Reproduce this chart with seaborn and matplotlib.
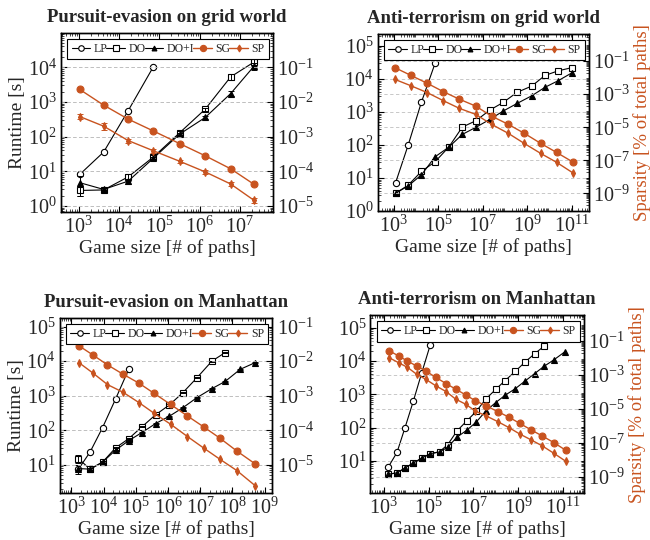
import numpy as np
import matplotlib
matplotlib.use("Agg")
import matplotlib.pyplot as plt
import seaborn as sns
from matplotlib.ticker import FixedLocator, LogLocator, LogFormatterSciNotation, NullFormatter
from matplotlib.lines import Line2D

sns.set_theme(style="ticks")
plt.rcParams["font.family"] = ["Liberation Serif", "DejaVu Serif"]
plt.rcParams["mathtext.fontset"] = "stix"

ORANGE = "#c8531f"

# ---- Pursuit-evasion on grid world ----
pe_grid_x = [1.07e3, 4.2e3, 1.7e4, 7.2e4, 3.2e5, 1.38e6, 5.9e6, 2.24e7]
pe_grid_lp = [8.1, 36, 560, 1.05e4]
pe_grid_do = [2.8, 2.9, 6.9, 26, 129, 620, 5.3e3, 1.42e4]
pe_grid_doi = [4.7, 3.0, 5.2, 24, 118, 357, 1.75e3, 1.08e4]
pe_grid_xs = [1.07e3, 4.2e3, 1.7e4, 7.2e4, 3.2e5, 1.38e6, 5.9e6, 2.24e7]
pe_grid_sg = [2.3e-2, 8.1e-3, 3.2e-3, 1.45e-3, 6.3e-4, 2.8e-4, 1.18e-4, 4.2e-5]
pe_grid_sp = [3.8e-3, 2.0e-3, 7.7e-4, 3.9e-4, 1.95e-4, 9.6e-5, 4.3e-5, 1.45e-5]
pe_grid_do_err = [0.9, 0.3, 1.5, 3, 15, 60, 900, 3000]
pe_grid_doi_err = [2.8, 0.3, 0.8, 2, 10, 40, 300, 2500]
pe_grid_sp_err = [6e-4, 4.5e-4, 1e-4, 5e-5, 2e-5, 1e-5, 5e-6, 2.5e-6]

# ---- Anti-terrorism on grid world ----
at_grid_x = [1.2e3, 4.4e3, 1.74e4, 7.1e4, 3.0e5, 1.2e6, 4.9e6, 2.1e7, 8.3e7,
             3.5e8, 1.6e9, 6.3e9, 2.5e10, 1.0e11]
at_grid_lp = [7.3, 100, 2.0e3, 2.95e4]
at_grid_do = [3.5, 6.1, 16, 31, 88, 350, 545, 1150, 1950, 3950, 6100, 1.28e4, 1.77e4, 2.2e4]
at_grid_doi = [3.5, 5.8, 12.5, 44, 87, 210, 345, 600, 1070, 1820, 3100, 5600, 8900, 1.52e4]
at_grid_xs = [1.1e3, 5.9e3, 3.2e4, 1.7e5, 8.7e5, 4.8e6, 2.5e7, 1.4e8, 7.4e8, 4.1e9, 2.1e10, 1.1e11]
at_grid_sg = [4.0e-2, 1.35e-2, 4.5e-3, 1.4e-3, 5.0e-4, 1.9e-4, 4.7e-5, 1.5e-5, 4.3e-6,
              1.05e-6, 3.0e-7, 8.1e-8]
at_grid_sp = [7.8e-3, 3.2e-3, 1.23e-3, 4.0e-4, 1.4e-4, 6.0e-5, 1.5e-5, 4.3e-6, 1.05e-6,
              2.6e-7, 7.6e-8, 1.8e-8]

# ---- Pursuit-evasion on Manhattan ----
pe_man_x = [1.66e3, 3.8e3, 9.3e3, 2.35e4, 6.0e4, 1.55e5, 4.1e5, 1.1e6, 2.9e6, 7.9e6,
            2.3e7, 6.0e7, 1.74e8, 5.0e8]
pe_man_lp = [7.5, 23.5, 120, 800, 5800]
pe_man_do = [15, 7.5, 12, 31, 57, 126, 280, 540, 1230, 3300, 1.0e4, 1.78e4]
pe_man_doi = [7.8, 7.5, 12, 26.5, 50, 86, 156, 255, 450, 880, 1600, 2600, 5800, 9000]
pe_man_xs = [1.7e3, 4.7e3, 1.32e4, 4.0e4, 1.26e5, 3.7e5, 1.2e6, 4.0e6, 1.32e7, 4.1e7,
             1.38e8, 5.2e8]
pe_man_sg = [2.8e-2, 1.5e-2, 7.8e-3, 4.2e-3, 2.3e-3, 1.17e-3, 5.6e-4, 2.6e-4, 1.23e-4,
             5.9e-5, 2.5e-5, 1.05e-5]
pe_man_sp = [9.1e-3, 4.5e-3, 2.1e-3, 1.26e-3, 6.3e-4, 3.1e-4, 1.5e-4, 6.6e-5, 3.0e-5,
             1.45e-5, 6.8e-6, 2.45e-6]
pe_man_do_err = [4, 0.5, 0.5, 1, 2, 5, 10, 20, 50, 150, 400, 600]
pe_man_doi_err = [2.2, 0.5, 0.5, 1, 2, 3, 5, 10, 20, 30, 60, 100, 200, 300]

# ---- Anti-terrorism on Manhattan ----
at_man_x = [1.6e3, 3.9e3, 8.9e3, 2.1e4, 5.0e4, 1.2e5, 3.1e5, 7.2e5, 1.86e6, 5.1e6,
            1.35e7, 3.5e7, 9.8e7, 2.6e8, 7.4e8, 2.0e9, 5.4e9, 1.4e10, 4.0e10, 1.17e11]
at_man_lp = [6.6, 18, 100, 630, 4500, 3.1e4]
at_man_do = [4.0, 4.4, 6.0, 8.7, 12, 16.5, 19, 31, 80, 160, 310, 710, 1400, 2600, 4900,
             9300, 1.66e4, 2.77e4]
at_man_doi = [4.0, 4.4, 6.2, 8.7, 12.3, 16.6, 18.6, 26, 52, 84, 148, 310, 565, 940, 1480,
              2500, 4200, 6900, 1.1e4, 1.87e4]
at_man_xs = [1.74e3, 4.7e3, 1.15e4, 2.9e4, 7.6e4, 2.1e5, 6.3e5, 1.6e6, 4.6e6, 1.23e7,
             3.8e7, 1.26e8, 3.9e8, 1.17e9, 3.9e9, 1.2e10, 3.9e10, 1.29e11]
at_man_sg = [2.7e-2, 1.3e-2, 6.6e-3, 3.4e-3, 1.7e-3, 7.2e-4, 3.0e-4, 1.48e-4, 6.6e-5,
             3.0e-5, 1.48e-5, 6.8e-6, 3.2e-6, 1.4e-6, 5.6e-7, 2.5e-7, 1.02e-7, 3.7e-8]
at_man_sp = [1.05e-2, 5.2e-3, 2.8e-3, 1.12e-3, 5.5e-4, 2.3e-4, 1.02e-4, 3.8e-5, 1.86e-5,
             7.4e-6, 3.8e-6, 1.74e-6, 7.8e-7, 3.3e-7, 1.45e-7, 6.5e-8, 2.4e-8, 8.3e-9]

styles = {
    "LP": dict(color="black", marker="o", mfc="white", mec="black", ms=4.5, lw=0.8),
    "DO": dict(color="black", marker="s", mfc="white", mec="black", ms=4.5, lw=0.8),
    "DO+I": dict(color="black", marker="^", mfc="black", mec="black", ms=4, lw=0.8),
    "SG": dict(color=ORANGE, marker="o", mfc=ORANGE, mec=ORANGE, ms=5, lw=1.0),
    "SP": dict(color=ORANGE, marker="d", mfc=ORANGE, mec=ORANGE, ms=4, lw=1.0),
}


def series(ax, x, y, name, err=None):
    st = styles[name]
    sns.lineplot(x=x[:len(y)], y=y, ax=ax, color=st["color"], marker=st["marker"],
                 markersize=st["ms"], markerfacecolor=st["mfc"], markeredgecolor=st["mec"],
                 markeredgewidth=0.8, linewidth=st["lw"], estimator=None, sort=False,
                 legend=False, zorder=3)
    if err is not None:
        ax.errorbar(x[:len(y)], y, yerr=err, fmt="none", ecolor=st["color"],
                    elinewidth=0.7, capsize=2, capthick=0.7, zorder=3)


def decades(lo, hi, step=1):
    return [10.0 ** k for k in range(lo, hi + 1, step)]


def panel(rect, title, xb, lp, do, doi, xo, sg, sp, xlim, ylim, rlim,
          xt, yt, rt, left_label, right_label, errs=None):
    errs = errs or {}
    ax = fig.add_axes(rect)
    ax.set_xscale("log")
    ax.set_yscale("log")
    ax2 = ax.twinx()
    ax2.set_yscale("log")

    series(ax, xb, lp, "LP", errs.get("LP"))
    series(ax, xb, do, "DO", errs.get("DO"))
    series(ax, xb, doi, "DO+I", errs.get("DO+I"))
    series(ax2, xo, sg, "SG", errs.get("SG"))
    series(ax2, xo, sp, "SP", errs.get("SP"))

    ax.set_xlim(*xlim)
    ax.set_ylim(*ylim)
    ax2.set_ylim(*rlim)

    fmt = LogFormatterSciNotation()
    ax.xaxis.set_major_locator(FixedLocator(xt))
    ax.xaxis.set_major_formatter(fmt)
    ax.xaxis.set_minor_locator(LogLocator(base=10, subs=np.arange(2, 10), numticks=100))
    ax.xaxis.set_minor_formatter(NullFormatter())
    ax.yaxis.set_major_locator(FixedLocator(yt))
    ax.yaxis.set_major_formatter(fmt)
    ax.yaxis.set_minor_locator(LogLocator(base=10, subs=np.arange(2, 10), numticks=100))
    ax.yaxis.set_minor_formatter(NullFormatter())
    ax2.yaxis.set_major_locator(FixedLocator(rt))
    ax2.yaxis.set_major_formatter(LogFormatterSciNotation())
    ax2.yaxis.set_minor_locator(LogLocator(base=10, subs=np.arange(2, 10), numticks=100))
    ax2.yaxis.set_minor_formatter(NullFormatter())

    ax.tick_params(which="both", direction="in", top=True, right=False, labelsize=14.5,
                   color="black")
    ax.tick_params(which="major", length=4, width=0.8, pad=3)
    ax.tick_params(which="minor", length=2, width=0.5)
    ax2.tick_params(which="both", direction="in", right=True, labelsize=14.5, color="black")
    ax2.tick_params(which="major", length=4, width=0.8, pad=3)
    ax2.tick_params(which="minor", length=2, width=0.5)

    ax.grid(axis="y", which="major", ls=(0, (4, 3)), color="0.75", lw=0.6)
    ax2.grid(axis="y", which="major", ls=(0, (4, 3)), color="0.75", lw=0.6)
    ax.set_axisbelow(True)
    for a in (ax, ax2):
        for s in a.spines.values():
            s.set_color("black")
            s.set_linewidth(1.0)

    ax.set_title(title, fontsize=13.5, fontweight="bold", pad=8)
    ax.set_xlabel("Game size [# of paths]", fontsize=14, labelpad=1)
    if left_label:
        ax.set_ylabel("Runtime [s]", fontsize=14, labelpad=1)
    if right_label:
        ax2.set_ylabel("Sparsity [% of total paths]", fontsize=13.5, color=ORANGE,
                       labelpad=2)

    handles = []
    for name in ["LP", "DO", "DO+I", "SG", "SP"]:
        st = styles[name]
        handles.append(Line2D([], [], color=st["color"], marker=st["marker"],
                              markersize=st["ms"] - 0.5, markerfacecolor=st["mfc"],
                              markeredgecolor=st["mec"], markeredgewidth=0.8,
                              linewidth=st["lw"], label=name))
    leg = ax2.legend(handles=handles, loc="upper left", ncol=5, mode="expand",
                     bbox_to_anchor=(0.03, 0.855, 0.95, 0.11), fontsize=8.5,
                     frameon=True, fancybox=False, edgecolor="black", framealpha=1,
                     handlelength=1.6, handletextpad=0.3, columnspacing=0.4,
                     borderpad=0.35, borderaxespad=0.0)
    leg.get_frame().set_linewidth(0.8)
    return ax, ax2


fig = plt.figure(figsize=(6.5, 5.4), dpi=100)

panel([0.094, 0.607, 0.326, 0.332], "Pursuit-evasion on grid world",
      pe_grid_x, pe_grid_lp, pe_grid_do, pe_grid_doi, pe_grid_xs, pe_grid_sg, pe_grid_sp,
      (370, 6.6e7), (0.66, 9.8e4), (6.6e-6, 0.98),
      decades(3, 7), decades(0, 4), decades(-5, -1), True, False,
      {"DO": pe_grid_do_err, "DO+I": pe_grid_doi_err, "SP": pe_grid_sp_err})

panel([0.581, 0.609, 0.325, 0.328], "Anti-terrorism on grid world",
      at_grid_x, at_grid_lp, at_grid_do, at_grid_doi, at_grid_xs, at_grid_sg, at_grid_sp,
      (186, 6.0e11), (1.0, 2.3e5), (8.5e-11, 4.3),
      decades(3, 11, 2), decades(0, 5), decades(-9, -1, 2), False, True)

panel([0.092, 0.0865, 0.327, 0.325], "Pursuit-evasion on Manhattan",
      pe_man_x, pe_man_lp, pe_man_do, pe_man_doi, pe_man_xs, pe_man_sg, pe_man_sp,
      (436, 1.74e9), (1.5, 1.8e5), (1.5e-6, 0.18),
      decades(3, 9), decades(1, 5), decades(-5, -1), True, False,
      {"DO": pe_man_do_err, "DO+I": pe_man_doi_err})

panel([0.570, 0.0865, 0.3286, 0.330], "Anti-terrorism on Manhattan",
      at_man_x, at_man_lp, at_man_do, at_man_doi, at_man_xs, at_man_sg, at_man_sp,
      (257, 8.7e11), (1.07, 2.4e5), (1.05e-10, 3.4),
      decades(3, 11, 2), decades(0, 5), decades(-9, -1, 2), False, True)

fig.savefig("out.png", dpi=100)
